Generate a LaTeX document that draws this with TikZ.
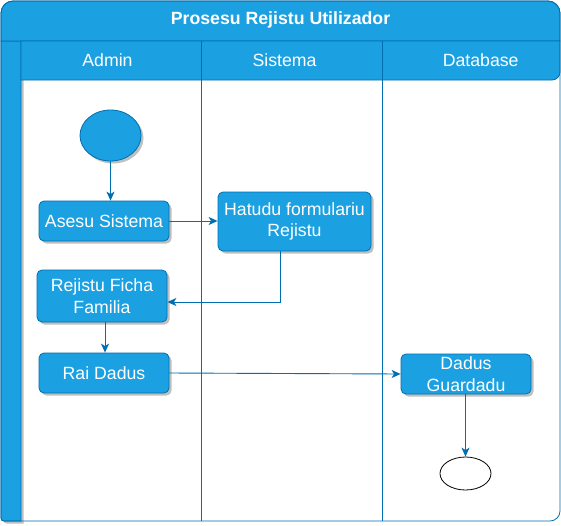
\documentclass[tikz,border=0pt]{standalone}
\usepackage{fontspec}
\setmainfont{Liberation Sans}
\usetikzlibrary{shadows,arrows.meta,shapes.geometric}
\definecolor{bfill}{HTML}{1BA1E2}
\definecolor{bline}{HTML}{006EAF}
\begin{document}
\begin{tikzpicture}[x=1pt,y=-1pt,
  txt/.style={font=\fontsize{17.7}{21.5}\selectfont},
  act/.style={txt, draw=bline, line width=0.8pt, fill=bfill, rounded corners=5pt, text=white, align=center,
    inner sep=0pt, drop shadow={shadow xshift=2.5pt, shadow yshift=-2.5pt, fill=black, opacity=0.25}},
  flow/.style={draw=bline, line width=0.9pt, -{Stealth[length=9pt,width=8pt,inset=2.5pt]}},
  lane/.style={draw=bline, line width=0.8pt}]
\useasboundingbox (0,0) rectangle (561,525);
\fill[white] (0,0) rectangle (561,525);
% left strip
\path[fill=bfill, draw=bline, line width=0.8pt, drop shadow={shadow xshift=2.5pt, shadow yshift=-2.5pt, fill=black, opacity=0.25}]
  (1,41) -- (21,41) -- (21,521) -- (4,521) arc[start angle=90,end angle=180,radius=3] -- cycle;
% title band
\path[fill=bfill, draw=bline, line width=0.8pt] (1,41) -- (1,13) arc[start angle=180,end angle=270,radius=12]
  -- (548,1) arc[start angle=270,end angle=360,radius=12] -- (560,41) -- cycle;
% header row
\path[fill=bfill, draw=bline, line width=0.8pt] (21,41) -- (560,41) -- (560,72) arc[start angle=0,end angle=90,radius=8]
  -- (21,80) -- cycle;
% lane dividers
\draw[lane] (201,41) -- (201,521);
\draw[lane] (382,41) -- (382,521);
% outer border
\draw[lane] (1,518) -- (1,13) arc[start angle=180,end angle=270,radius=12]
  -- (548,1) arc[start angle=270,end angle=360,radius=12] -- (560,511) arc[start angle=0,end angle=90,radius=10]
  -- (4,521) arc[start angle=90,end angle=180,radius=3] -- cycle;
% texts
\node[txt, text=white, font=\fontsize{17.7}{21.5}\selectfont\bfseries] (title) at (280.5,20) {Prosesu Rejistu Utilizador};
\node[txt, text=white] (hadmin) at (107.5,60) {Admin};
\node[txt, text=white] (hsis) at (284.5,60) {Sistema};
\node[txt, text=white] (hdb) at (480.7,60) {Database};
% nodes
\node[ellipse, draw=bline, line width=0.8pt, fill=bfill, minimum width=61pt, minimum height=51pt, inner sep=0pt,
  drop shadow={shadow xshift=2.5pt, shadow yshift=-2.5pt, fill=black, opacity=0.25}] (start) at (110.5,135.5) {};
\node[act, minimum width=130pt, minimum height=40pt] (asesu) at (104,221) {Asesu Sistema};
\node[act, minimum width=153pt, minimum height=59pt] (hatudu) at (294.5,221.5) {Hatudu formulariu\\Rejistu};
\node[act, minimum width=130pt, minimum height=52pt] (rejistu) at (102,296) {Rejistu Ficha\\Familia};
\node[act, minimum width=130pt, minimum height=40pt] (rai) at (104,373) {Rai Dadus};
\node[act, minimum width=130pt, minimum height=40pt] (dadus) at (466,374) {Dadus\\Guardadu};
\node[ellipse, draw=black, line width=0.8pt, fill=white, minimum width=51pt, minimum height=33pt, inner sep=0pt] (end) at (465.5,473.5) {};
% connectors
\draw[flow] (start.south) -- (start.south |- asesu.north);
\draw[flow] (asesu.east) -- (asesu.east -| hatudu.west);
\coordinate (hb) at ([xshift=-14.5pt]hatudu.south);
\coordinate (rj) at ([yshift=-6pt]rejistu.east);
\draw[flow] (hb) |- (rj);
\coordinate (rs) at ([xshift=3pt]rejistu.south);
\draw[flow] (rs) -- (rs |- rai.north);
\draw[flow] (rai.east) -- (dadus.west);
\draw[flow] (dadus.south -| end.north) -- (end.north);
\end{tikzpicture}
\end{document}
